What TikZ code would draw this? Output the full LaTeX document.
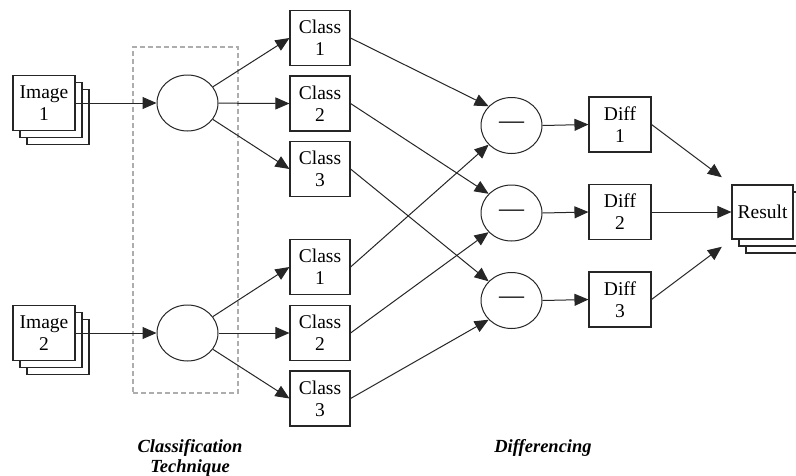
\documentclass[tikz,border=0pt]{standalone}
\usepackage{fontspec}
\setmainfont{Liberation Serif}
\usetikzlibrary{arrows.meta,shapes.geometric}
\begin{document}
\begin{tikzpicture}[x=1pt,y=-1pt,
  box/.style={draw=black!85, fill=white, line width=1.1pt, minimum width=60pt, minimum height=55pt, inner sep=0pt, align=center, font=\fontsize{19.5}{22}\selectfont},
  imgbox/.style={box, minimum width=62pt},
  op/.style={draw=black!85, fill=white, ellipse, minimum width=61pt, minimum height=56pt, inner sep=0pt, line width=1pt, font=\fontsize{25}{25}\selectfont},
  arr/.style={draw=black!85, line width=1pt, -{Triangle[length=14pt,width=12pt]}},
  lab/.style={font=\fontsize{18.5}{20}\selectfont\bfseries\itshape, align=center, inner sep=0pt},
  grpbox/.style={draw=black!32, dash pattern=on 5pt off 3pt, line width=1.8pt, minimum width=105pt, minimum height=346pt, inner sep=0pt}]
\useasboundingbox (0,0) rectangle (796,475);
\fill[white] (0,0) rectangle (796,475);

% group box
\node[grpbox] (grp) at (185.5,220) {};

% image stacks
\node[imgbox] (i1c) at (58,117) {};
\node[imgbox] (i1b) at (51,110) {};
\node[imgbox] (i1) at (44,103) {Image\\1};
\node[imgbox] (i2c) at (58,347) {};
\node[imgbox] (i2b) at (51,340) {};
\node[imgbox] (i2) at (44,333) {Image\\2};

% classifiers
\node[op] (c1) at (187.5,103) {};
\node[op] (c2) at (187.5,333) {};

% class boxes
\node[box] (a1) at (320,38) {Class\\1};
\node[box] (a2) at (320,103.5) {Class\\2};
\node[box] (a3) at (320,169) {Class\\3};
\node[box] (b1) at (320,267) {Class\\1};
\node[box] (b2) at (320,333) {Class\\2};
\node[box] (b3) at (320,398.5) {Class\\3};

% differencing operators
\node[op] (m1) at (511.5,125.5) {—};
\node[op] (m2) at (511.5,213) {—};
\node[op] (m3) at (511.5,300.5) {—};

% diff boxes
\node[box, minimum width=62pt] (d1) at (620,124.5) {Diff\\1};
\node[box, minimum width=62pt] (d2) at (620,212) {Diff\\2};
\node[box, minimum width=62pt] (d3) at (620,299.5) {Diff\\3};

% result stack
\node[box, minimum width=61pt, minimum height=54pt] (rc) at (776.5,226) {};
\node[box, minimum width=61pt, minimum height=54pt] (rb) at (769.5,219) {};
\node[box, minimum width=61pt, minimum height=54pt] (r) at (762.5,212) {Result};

% arrows
\draw[arr] (i1.east) -- (c1);
\draw[arr] (i2.east) -- (c2);
\draw[arr] (c1) -- (a1.west);
\draw[arr] (c1) -- (a2.west);
\draw[arr] (c1) -- (a3.west);
\draw[arr] (c2) -- (b1.west);
\draw[arr] (c2) -- (b2.west);
\draw[arr] (c2) -- (b3.west);

\draw[arr] (a1.east) -- (m1.140);
\draw[arr] (a2.east) -- (m2.140);
\draw[arr] (a3.east) -- (m3.140);
\draw[arr] (b1.east) -- (m1.220);
\draw[arr] (b2.east) -- (m2.220);
\draw[arr] (b3.east) -- (m3.220);

\draw[arr] (m1.east) -- (d1.west);
\draw[arr] (m2.east) -- (d2.west);
\draw[arr] (m3.east) -- (d3.west);

\draw[arr, shorten >=12pt] (d1.east) -- (r.north west);
\draw[arr] (d2.east) -- (r.west);
\draw[arr, shorten >=12pt] (d3.east) -- (r.south west);

% labels
\node[lab] (lc) at (190,458) {Classification\\Technique};
\node[lab, anchor=base] (ld) at (543,452) {Differencing};
\end{tikzpicture}
\end{document}
